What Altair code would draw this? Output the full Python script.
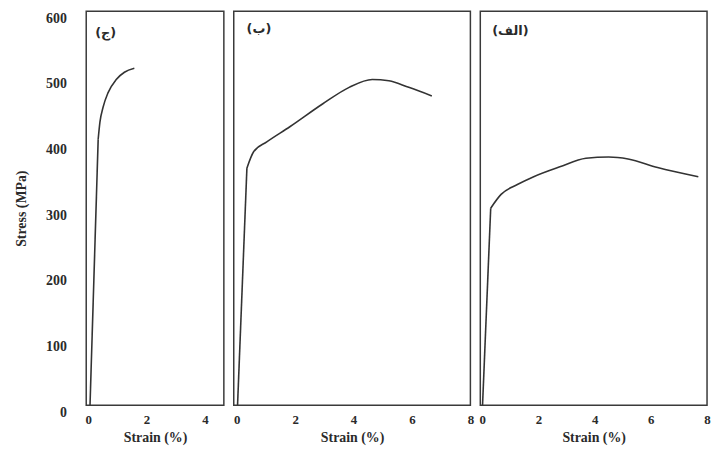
import altair as alt
import pandas as pd

# ---- data ----
# panel (ج)
strain_c = [0.06, 0.34, 0.40, 0.51, 0.68, 0.96, 1.24, 1.58]
stress_c = [0, 405, 431, 454, 476, 496, 507, 513]
# panel (ب)
strain_b = [0.03, 0.35, 0.58, 1.03, 1.82, 2.95, 3.85, 4.64, 5.21, 5.89, 6.68]
stress_b = [0, 361, 386, 401, 424, 459, 484, 496, 494, 484, 471]
# panel (الف)
strain_a = [0.01, 0.30, 0.67, 1.25, 1.83, 2.76, 3.69, 4.50, 5.19, 6.24, 7.69]
stress_a = [0, 300, 321, 336, 348, 363, 376, 378, 375, 362, 348]

PANEL_LABELS = ["(ج)", "(ب)", "(الف)"]
X_TICKS_SHORT = [0, 2, 4]
X_TICKS_LONG = [0, 2, 4, 6, 8]
Y_TICKS = [0, 100, 200, 300, 400, 500, 600]
X_TITLE = "Strain (%)"
Y_TITLE = "Stress (MPa)"

FONT = "Liberation Serif"
INK = "#2a2a2a"
H = 398


def panel(strain, stress, label, width, xdom, xticks, show_y, lx, ly):
    df = pd.DataFrame({"strain": strain, "stress": stress})
    elastic = df.iloc[:2]
    plastic = df.iloc[1:]
    xaxis = alt.Axis(values=xticks, title=X_TITLE, labelPadding=8, ticks=False,
                     domain=False, grid=False, titlePadding=5, labelFlush=False,
                     labelFont=FONT, labelFontSize=13, labelFontWeight="bold",
                     labelColor=INK, titleFont=FONT, titleFontSize=14,
                     titleFontWeight="bold", titleColor=INK, format="d")
    if show_y:
        yaxis = alt.Axis(values=Y_TICKS, title=Y_TITLE, labelPadding=20,
                         labelOffset=7, ticks=False, domain=False, grid=False,
                         titlePadding=17, labelFont=FONT, labelFontSize=14,
                         labelFontWeight="bold", labelColor=INK,
                         titleFont=FONT, titleFontSize=14,
                         titleFontWeight="bold", titleColor=INK)
    else:
        yaxis = None
    xenc = alt.X("strain:Q", scale=alt.Scale(domain=xdom, nice=False, zero=False), axis=xaxis)
    yenc = alt.Y("stress:Q", scale=alt.Scale(domain=[0, 600], nice=False), axis=yaxis)
    l1 = alt.Chart(elastic).mark_line(color="#333333", strokeWidth=1.6, clip=True).encode(
        x=xenc, y=yenc)
    l2 = alt.Chart(plastic).mark_line(color="#333333", strokeWidth=1.6,
                                      interpolate="monotone", clip=True).encode(
        x=xenc, y=yenc)
    txt = alt.Chart(elastic.iloc[:1]).mark_text(
        text=label, align="left", baseline="middle", font="DejaVu Sans",
        fontSize=13, fontWeight="bold", color=INK).encode(
        x=alt.value(lx), y=alt.value(ly))
    return alt.layer(l1, l2, txt).properties(width=width, height=H)


p1 = panel(strain_c, stress_c, PANEL_LABELS[0], 139, [-0.07, 4.65], X_TICKS_SHORT, True, 9, 22)
p2 = panel(strain_b, stress_b, PANEL_LABELS[1], 239, [-0.1, 8.0], X_TICKS_LONG, False, 13, 18)
p3 = panel(strain_a, stress_a, PANEL_LABELS[2], 229, [-0.07, 8.0], X_TICKS_LONG, False, 12, 20)

chart = alt.hconcat(p1, p2, p3, spacing=10, bounds="flush").properties(
    padding={"left": 6, "top": 0, "right": 0, "bottom": 0},
    background="white",
).configure_view(stroke="#3a3a3a", strokeWidth=1.5)

chart.save("out.html", embed_options={"renderer": "svg", "actions": False})
